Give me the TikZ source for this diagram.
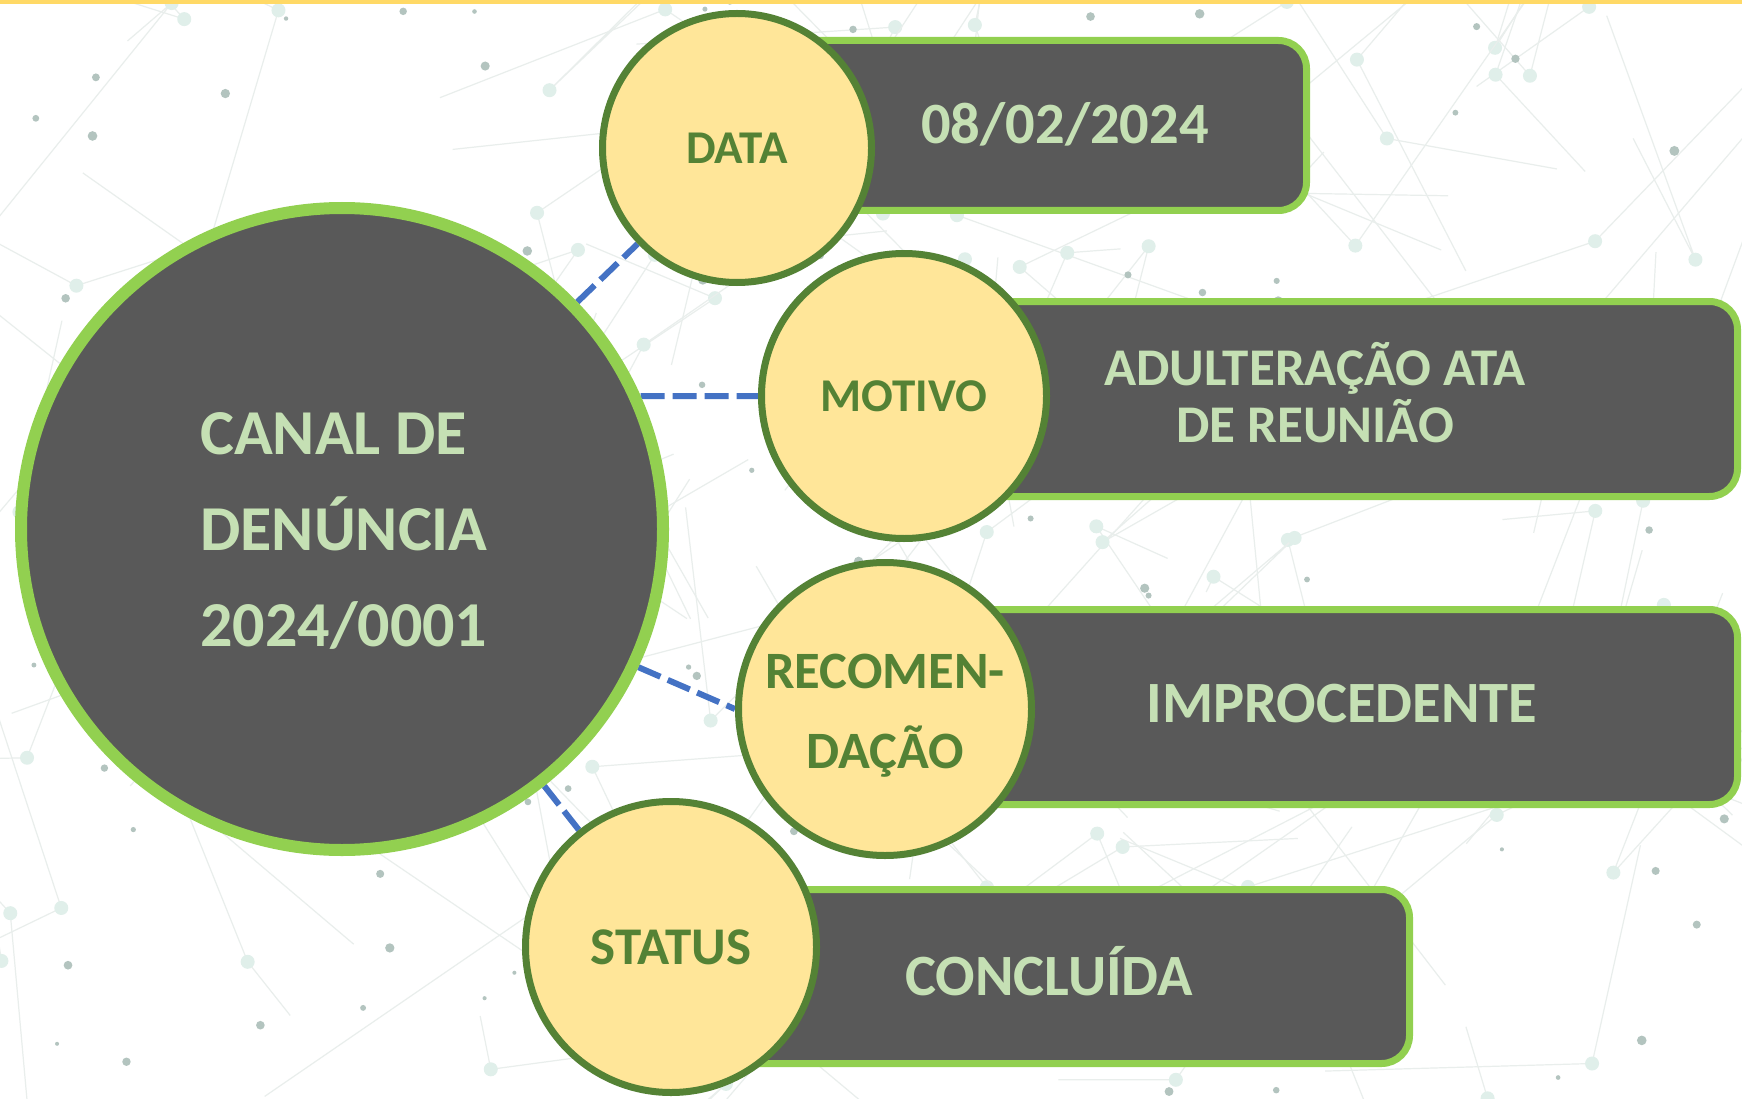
\documentclass[tikz,border=0pt]{standalone}
\usepackage{fontspec}
\setmainfont{Carlito}
\usetikzlibrary{backgrounds}
\definecolor{dgray}{HTML}{595959}
\definecolor{lgreen}{HTML}{92D050}
\definecolor{cgreen}{HTML}{548235}
\definecolor{cyellow}{HTML}{FFE699}
\definecolor{ctext}{HTML}{C5E0B4}
\definecolor{cblue}{HTML}{4472C4}
\definecolor{stripe}{HTML}{FFD966}
\definecolor{netl}{HTML}{E9EEEC}
\definecolor{netd}{HTML}{B3C4BF}
\definecolor{neth}{HTML}{E0EFEA}
\tikzset{
  bigcirc/.style={circle, draw=lgreen, fill=dgray, line width=12pt, minimum size=642pt, inner sep=0pt},
  smallcirc/.style={circle, draw=cgreen, fill=cyellow, line width=7pt, inner sep=0pt, text=cgreen, align=center},
  infobox/.style={rectangle, rounded corners=28pt, draw=lgreen, fill=dgray, line width=7pt, inner sep=0pt},
  boxtext/.style={text=ctext, align=center, inner sep=0pt},
  conn/.style={draw=cblue, line width=6pt, dash pattern=on 24pt off 8pt},
  netline/.style={draw=netl, line width=1.2pt},
}
\begin{document}
\begin{tikzpicture}[x=1pt,y=-1pt]
\useasboundingbox (0,0) rectangle (1742,1099);

% info boxes
\node[infobox, minimum width=566pt, minimum height=170pt] (b1) at (1023.5,125.5) {};
\node[infobox, minimum width=830pt, minimum height=195pt] (b2) at (1322.5,399) {};
\node[infobox, minimum width=849pt, minimum height=195pt] (b3) at (1313,707) {};
\node[infobox, minimum width=735pt, minimum height=174pt] (b4) at (1042,976.5) {};

\node[boxtext, font={\bfseries\fontsize{58.5}{60}\selectfont}] (t1) at (1065,124) {08/02/2024};
\node[boxtext, font={\bfseries\fontsize{53}{57}\selectfont}] (t2) at (1315,393) {ADULTERAÇÃO ATA\\DE REUNIÃO};
\node[boxtext, font={\bfseries\fontsize{58.5}{60}\selectfont}] (t3) at (1342,704) {IMPROCEDENTE};
\node[boxtext, font={\bfseries\fontsize{58.5}{60}\selectfont}] (t4) at (1049,971) {CONCLUÍDA};

% central circle
\node[bigcirc] (big) at (342,529) {};
\node[boxtext, align=left, font={\bfseries\fontsize{64}{96}\selectfont}] (bigt) at (344,531) {CANAL DE\\DENÚNCIA\\2024/0001};

% small circles
\node[smallcirc, minimum size=269pt, font={\bfseries\fontsize{47}{50}\selectfont}] (data) at (737,148) {DATA};
\node[smallcirc, minimum size=285pt, font={\bfseries\fontsize{47}{50}\selectfont}] (motivo) at (904,396) {MOTIVO};
\node[smallcirc, minimum size=293pt, font={\bfseries\fontsize{52.5}{80}\selectfont}] (recom) at (885,709) {\raisebox{-13pt}[0pt][0pt]{\parbox{250pt}{\centering RECOMEN-\\DAÇÃO}}};
\node[smallcirc, minimum size=291pt, font={\bfseries\fontsize{53}{55}\selectfont}] (status) at (671,947) {STATUS};

\begin{scope}[on background layer]
  \fill[white] (0,0) rectangle (1742,1099);
  \begin{scope}
    \clip (0,0) rectangle (1742,1099);
    \pgfmathsetseed{11}
    \foreach \i in {1,...,110}{
      \pgfmathsetmacro\ax{rnd*1742}
      \pgfmathsetmacro\ay{rnd*1099}
      \pgfmathsetmacro\bx{\ax+rand*280}
      \pgfmathsetmacro\by{\ay+rand*280}
      \pgfmathsetmacro\cx{\ax+rand*280}
      \pgfmathsetmacro\cy{\ay+rand*280}
      \draw[netline] (\bx,\by) -- (\ax,\ay) -- (\cx,\cy);
      \fill[neth] (\ax,\ay) circle (7pt);
    }
    \foreach \i in {1,...,120}{
      \pgfmathsetmacro\dx{rnd*1742}
      \pgfmathsetmacro\dy{rnd*1099}
      \pgfmathsetmacro\dr{2+rnd*3}
      \fill[netd] (\dx,\dy) circle (\dr pt);
    }
  \end{scope}
  \fill[stripe] (0,0) rectangle (1742,4);
  % connectors
  \draw[conn] (big) -- (data);
  \draw[conn] (big.24) -- (motivo.west);
  \draw[conn] (big.-25) -- (recom.west);
  \draw[conn] (big) -- (status);
\end{scope}
\end{tikzpicture}
\end{document}
